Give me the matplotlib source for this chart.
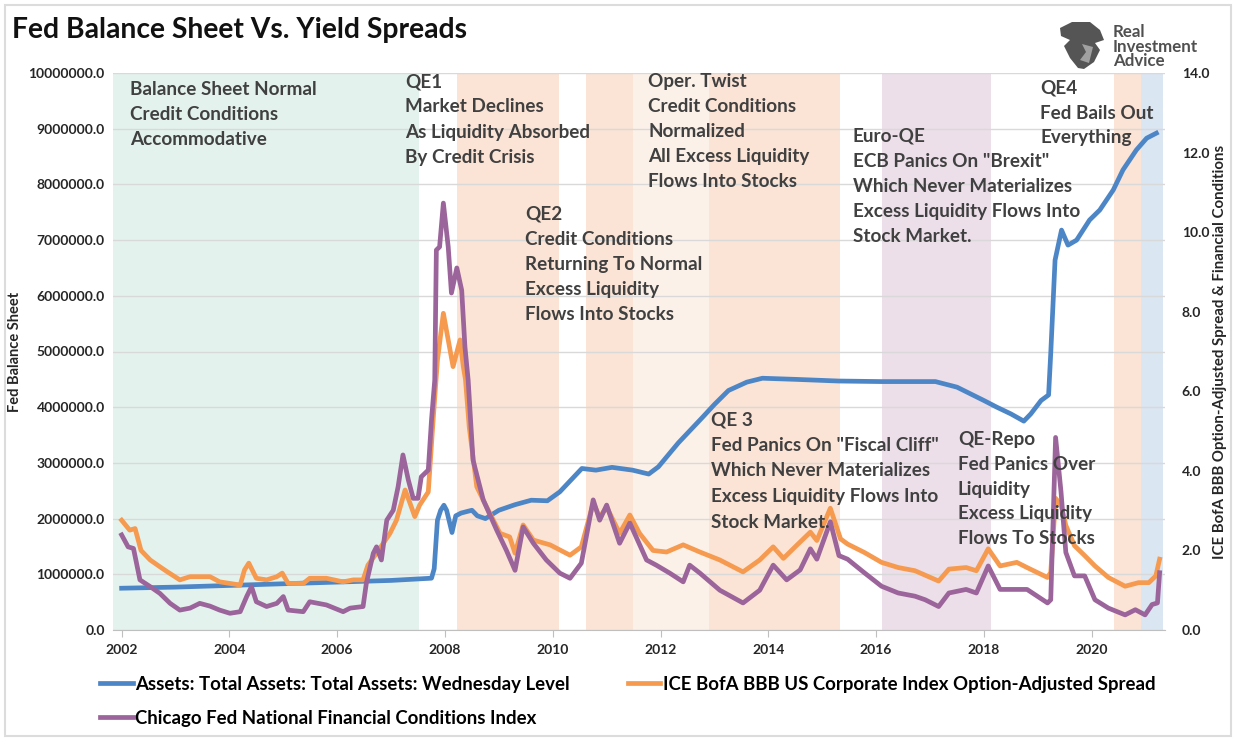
import matplotlib
matplotlib.use('Agg')
import matplotlib.pyplot as plt
from matplotlib import font_manager
from matplotlib.patches import Rectangle, Polygon
from matplotlib.ticker import FuncFormatter

names = {f.name for f in font_manager.fontManager.ttflist}
MAIN = 'Lato' if 'Lato' in names else 'DejaVu Sans'

# ---------------- data ----------------
assets_years = [2002.0, 2003.0, 2004.0, 2005.0, 2006.0, 2007.0, 2007.75, 2007.8, 2007.86, 2007.92,
                2007.98, 2008.03, 2008.13, 2008.2, 2008.3, 2008.5, 2008.6, 2008.75, 2009.0, 2009.3,
                2009.6, 2009.9, 2010.13, 2010.54, 2010.8, 2011.1, 2011.48, 2011.78, 2011.96, 2012.33,
                2012.78, 2013.0, 2013.26, 2013.6, 2013.89, 2014.5, 2015.3, 2016.1, 2017.1, 2017.5,
                2018.0, 2018.24, 2018.5, 2018.74, 2018.87, 2019.06, 2019.2, 2019.24, 2019.32, 2019.44,
                2019.56, 2019.72, 2019.96, 2020.15, 2020.4, 2020.58, 2020.83, 2021.02, 2021.2]
assets_values = [750000, 770000, 800000, 830000, 860000, 890000, 930000, 1100000, 1970000, 2150000,
                 2240000, 2150000, 1750000, 2050000, 2100000, 2150000, 2050000, 2000000, 2150000, 2250000,
                 2330000, 2320000, 2480000, 2900000, 2870000, 2920000, 2870000, 2800000, 2930000, 3360000,
                 3820000, 4050000, 4300000, 4450000, 4520000, 4500000, 4470000, 4460000, 4460000, 4360000,
                 4120000, 4000000, 3880000, 3750000, 3880000, 4120000, 4220000, 4970000, 6640000, 7180000,
                 6910000, 7000000, 7360000, 7540000, 7900000, 8260000, 8620000, 8830000, 8920000]

spread_years = [2002.0, 2002.15, 2002.25, 2002.36, 2002.53, 2002.71, 2002.84, 2003.08, 2003.27, 2003.45,
                2003.64, 2003.82, 2004.01, 2004.2, 2004.28, 2004.36, 2004.5, 2004.69, 2004.88, 2004.98,
                2005.09, 2005.37, 2005.49, 2005.8, 2006.11, 2006.3, 2006.48, 2006.57, 2006.73, 2006.98,
                2007.1, 2007.26, 2007.35, 2007.44, 2007.53, 2007.69, 2007.78, 2007.86, 2007.97, 2008.06,
                2008.15, 2008.28, 2008.34, 2008.38, 2008.45, 2008.59, 2008.77, 2009.02, 2009.2, 2009.3,
                2009.45, 2009.64, 2009.95, 2010.32, 2010.53, 2010.63, 2010.75, 2010.87, 2011.0, 2011.24,
                2011.43, 2011.61, 2011.86, 2012.11, 2012.42, 2012.73, 2013.1, 2013.53, 2013.84, 2014.09,
                2014.28, 2014.52, 2014.78, 2014.9, 2015.15, 2015.34, 2015.47, 2015.78, 2016.1, 2016.41,
                2016.72, 2017.16, 2017.35, 2017.67, 2017.86, 2018.08, 2018.3, 2018.61, 2018.8, 2019.18,
                2019.24, 2019.33, 2019.43, 2019.52, 2019.68, 2019.87, 2020.06, 2020.31, 2020.62, 2020.87,
                2021.06, 2021.19, 2021.26]
spread_values = [2.76, 2.51, 2.55, 2.0, 1.76, 1.59, 1.47, 1.26, 1.34, 1.34,
                 1.34, 1.21, 1.17, 1.13, 1.51, 1.68, 1.3, 1.26, 1.34, 1.43,
                 1.17, 1.17, 1.3, 1.3, 1.21, 1.26, 1.26, 1.63, 1.93, 2.43,
                 2.76, 3.52, 3.19, 2.85, 3.14, 3.47, 5.28, 6.78, 7.96, 7.29,
                 6.62, 7.29, 6.62, 6.3, 5.1, 3.6, 3.1, 2.43, 2.34, 1.93,
                 2.64, 2.26, 2.14, 1.88, 2.09, 2.59, 3.19, 2.84, 3.09, 2.43,
                 2.89, 2.43, 2.0, 1.96, 2.14, 1.96, 1.76, 1.46, 1.76, 2.09,
                 1.8, 2.12, 2.46, 2.25, 3.06, 2.29, 2.16, 1.95, 1.70, 1.57,
                 1.49, 1.23, 1.53, 1.57, 1.49, 2.04, 1.61, 1.70, 1.57, 1.32,
                 1.45, 3.31, 3.14, 2.63, 2.12, 1.87, 1.61, 1.32, 1.10, 1.19,
                 1.19, 1.36, 1.78]

nfci_years = [2002.0, 2002.12, 2002.22, 2002.34, 2002.53, 2002.71, 2002.9, 2003.08, 2003.27, 2003.45,
              2003.64, 2003.82, 2004.01, 2004.2, 2004.32, 2004.41, 2004.5, 2004.69, 2004.88, 2005.0,
              2005.09, 2005.37, 2005.49, 2005.8, 2006.11, 2006.24, 2006.48, 2006.54, 2006.67, 2006.73,
              2006.82, 2006.92, 2007.04, 2007.13, 2007.22, 2007.32, 2007.41, 2007.5, 2007.56, 2007.69,
              2007.75, 2007.81, 2007.84, 2007.9, 2007.97, 2008.06, 2008.12, 2008.22, 2008.31, 2008.37,
              2008.43, 2008.52, 2008.71, 2008.96, 2009.14, 2009.3, 2009.45, 2009.64, 2009.88, 2010.13,
              2010.32, 2010.53, 2010.75, 2010.87, 2011.0, 2011.24, 2011.43, 2011.74, 2011.92, 2012.17,
              2012.42, 2012.54, 2012.73, 2013.1, 2013.53, 2013.84, 2014.09, 2014.34, 2014.59, 2014.78,
              2014.9, 2015.15, 2015.31, 2015.47, 2015.78, 2016.1, 2016.41, 2016.72, 2016.91, 2017.16,
              2017.35, 2017.67, 2017.86, 2018.08, 2018.3, 2018.61, 2018.8, 2019.18, 2019.24, 2019.33,
              2019.43, 2019.52, 2019.68, 2019.87, 2020.06, 2020.31, 2020.62, 2020.81, 2020.99, 2021.12,
              2021.22, 2021.26]
nfci_values = [2.39, 2.09, 2.05, 1.26, 1.09, 0.92, 0.67, 0.5, 0.55, 0.67,
               0.6, 0.5, 0.42, 0.46, 0.84, 1.09, 0.71, 0.59, 0.67, 0.84,
               0.5, 0.46, 0.71, 0.63, 0.46, 0.55, 0.59, 1.17, 1.93, 2.09,
               1.76, 2.76, 3.01, 3.6, 4.4, 3.77, 3.31, 3.31, 3.85, 4.02,
               5.28, 6.28, 9.55, 9.63, 10.73, 9.63, 8.47, 9.1, 8.54, 7.12,
               6.28, 4.27, 3.27, 2.51, 2.0, 1.5, 2.59, 2.18, 1.76, 1.43,
               1.3, 1.68, 3.27, 2.76, 3.14, 2.18, 2.69, 1.76, 1.63, 1.43,
               1.21, 1.63, 1.43, 1.0, 0.68, 1.0, 1.63, 1.26, 1.51, 2.04,
               1.78, 2.72, 1.87, 1.78, 1.44, 1.10, 0.93, 0.85, 0.76, 0.59,
               0.93, 1.02, 0.93, 1.61, 1.02, 1.02, 1.02, 0.68, 0.76, 4.84,
               3.48, 1.95, 1.36, 1.36, 0.76, 0.55, 0.38, 0.51, 0.38, 0.64,
               0.68, 1.44]

band_starts = [2001.84, 2008.22, 2010.62, 2011.48, 2012.9, 2016.1, 2020.41, 2020.91]
band_ends = [2007.52, 2010.12, 2011.48, 2012.9, 2015.33, 2018.13, 2020.91, 2021.32]
band_colors = ['#e4f2ee', '#fbe4d5', '#fbe4d5', '#fbf1e8', '#fbe4d5', '#ecdfe9', '#fbe4d5', '#dbe6f3']

x_ticks = [2002, 2004, 2006, 2008, 2010, 2012, 2014, 2016, 2018, 2020]
left_ticks = [0, 1000000, 2000000, 3000000, 4000000, 5000000, 6000000, 7000000, 8000000, 9000000, 10000000]
right_ticks = [0, 2, 4, 6, 8, 10, 12, 14]

label_assets = 'Assets: Total Assets: Total Assets: Wednesday Level'
label_spread = 'ICE BofA BBB US Corporate Index Option-Adjusted Spread'
label_nfci = 'Chicago Fed National Financial Conditions Index'

notes = [
    (130, 88, 25.0, ['Balance Sheet Normal', 'Credit Conditions', 'Accommodative']),
    (405, 80, 25.3, ['QE1', 'Market Declines', 'As Liquidity Absorbed', 'By Credit Crisis']),
    (648, 80, 25.0, ['Oper. Twist', 'Credit Conditions', 'Normalized', 'All Excess Liquidity', 'Flows Into Stocks']),
    (525, 213, 25.0, ['QE2', 'Credit Conditions', 'Returning To Normal', 'Excess Liquidity', 'Flows Into Stocks']),
    (853, 135, 25.0, ['Euro-QE', 'ECB Panics On "Brexit"', 'Which Never Materializes', 'Excess Liquidity Flows Into', 'Stock Market.']),
    (1040, 87, 24.6, ['QE4', 'Fed Bails Out', 'Everything']),
    (711, 418, 25.7, ['QE 3', 'Fed Panics On "Fiscal Cliff"', 'Which Never Materializes', 'Excess Liquidity Flows Into', 'Stock Market.']),
    (958, 438, 24.8, ['QE-Repo', 'Fed Panics Over', 'Liquidity', 'Excess Liquidity', 'Flows To Stocks']),
]

# ---------------- figure ----------------
W, H = 1236, 740
fig = plt.figure(figsize=(W / 100, H / 100), dpi=100)
fig.patch.set_facecolor('white')


def fx(px):
    return px / W


def fy(py):
    return 1 - py / H


fig.patches.append(Rectangle((fx(5), fy(736)), fx(1226), 731 / H, transform=fig.transFigure,
                             fill=False, edgecolor='#dcdcdc', lw=1.5))

ax = fig.add_axes([fx(113), fy(630), fx(1165 - 113), (630 - 73) / H])
ax.set_xlim(2001.84, 2021.36)
ax.set_ylim(0, 10000000)
ax2 = ax.twinx()
ax2.set_ylim(0, 14)

for s, e, c in zip(band_starts, band_ends, band_colors):
    ax.axvspan(s, e, color=c, lw=0, zorder=0.1)

ax.set_axisbelow(True)
ax.yaxis.grid(True, color='#d9d9d9', lw=1)
ax.set_yticks(left_ticks)
ax.yaxis.set_major_formatter(FuncFormatter(lambda v, p: f'{v:.1f}'))
ax2.set_yticks(right_ticks)
ax2.yaxis.set_major_formatter(FuncFormatter(lambda v, p: f'{v:.1f}'))
ax.set_xticks(x_ticks)
ax.set_xticklabels([str(t) for t in x_ticks])

for lab in ax.get_yticklabels() + ax.get_xticklabels() + ax2.get_yticklabels():
    lab.set_fontfamily(MAIN)
    lab.set_fontweight('bold')
    lab.set_fontsize(10)
    lab.set_color('#262626')
ax.tick_params(axis='y', length=0, pad=6)
ax2.tick_params(axis='y', length=0, pad=12)
ax.tick_params(axis='x', length=5, color='#bfbfbf', pad=5)

for sp in ['top', 'left', 'right']:
    ax.spines[sp].set_visible(False)
ax.spines['bottom'].set_color('#bfbfbf')
for sp in ax2.spines.values():
    sp.set_visible(False)

ax.set_ylabel('Fed Balance Sheet', fontfamily=MAIN, fontweight='bold', fontsize=10.5, color='#262626')
ax.yaxis.set_label_coords((22 - 113) / (1165 - 113), 0.5)
ax2.set_ylabel('ICE BofA BBB Option-Adjusted Spread & Financial Conditions', fontfamily=MAIN,
               fontweight='bold', fontsize=10.8, color='#262626')
ax2.yaxis.set_label_coords((1213 - 113) / (1165 - 113), 0.5)

c_blue, c_orange, c_purple = '#4d86c6', '#f59a4f', '#9b649a'
h1, = ax.plot(assets_years, assets_values, color=c_blue, lw=3.4, solid_joinstyle='round')
h2, = ax2.plot(spread_years, spread_values, color=c_orange, lw=3.4, solid_joinstyle='round')
h3, = ax2.plot(nfci_years, nfci_values, color=c_purple, lw=3.4, solid_joinstyle='round')

for x0, y0, step, lines in notes:
    for i, line in enumerate(lines):
        fig.text(fx(x0), fy(y0 + i * step), line, ha='left', va='center_baseline',
                 fontfamily=MAIN, fontweight='bold', fontsize=13.6, color='#404040')

fig.text(fx(12), fy(30), 'Fed Balance Sheet Vs. Yield Spreads', ha='left', va='center',
         fontfamily=MAIN, fontweight='bold', fontsize=20.3, color='#111111')

# logo
eagle = [(1060, 28), (1072, 22), (1090, 22), (1100, 30), (1104, 40), (1095, 43), (1100, 50),
         (1094, 62), (1084, 69), (1078, 68), (1070, 58), (1064, 46), (1070, 40), (1061, 36)]
fig.patches.append(Polygon([(fx(a), fy(b)) for a, b in eagle], closed=True, transform=fig.transFigure,
                           facecolor='#555555', edgecolor='none'))
inner = [(1082, 44), (1093, 47), (1089, 63), (1080, 60), (1086, 52)]
fig.patches.append(Polygon([(fx(a), fy(b)) for a, b in inner], closed=True, transform=fig.transFigure,
                           facecolor='#a0a0a0', edgecolor='none'))
for i, w in enumerate(['Real', 'Investment', 'Advice']):
    fig.text(fx(1113), fy(32 + i * 14.5), w, ha='left', va='center', fontfamily=MAIN,
             fontweight='bold', fontsize=12.2, color='#505050')

leg_font = dict(family=MAIN, weight='bold', size=13.4)
fig.legend([h1, h3, h2], [label_assets, label_nfci, label_spread], ncol=2, loc='upper left',
           bbox_to_anchor=(fx(100), fy(676)), frameon=False, prop=leg_font,
           handlelength=1.75, handletextpad=0.15, columnspacing=3.1, labelspacing=0.9,
           borderpad=0, borderaxespad=0)

fig.savefig('out.png', dpi=100)
